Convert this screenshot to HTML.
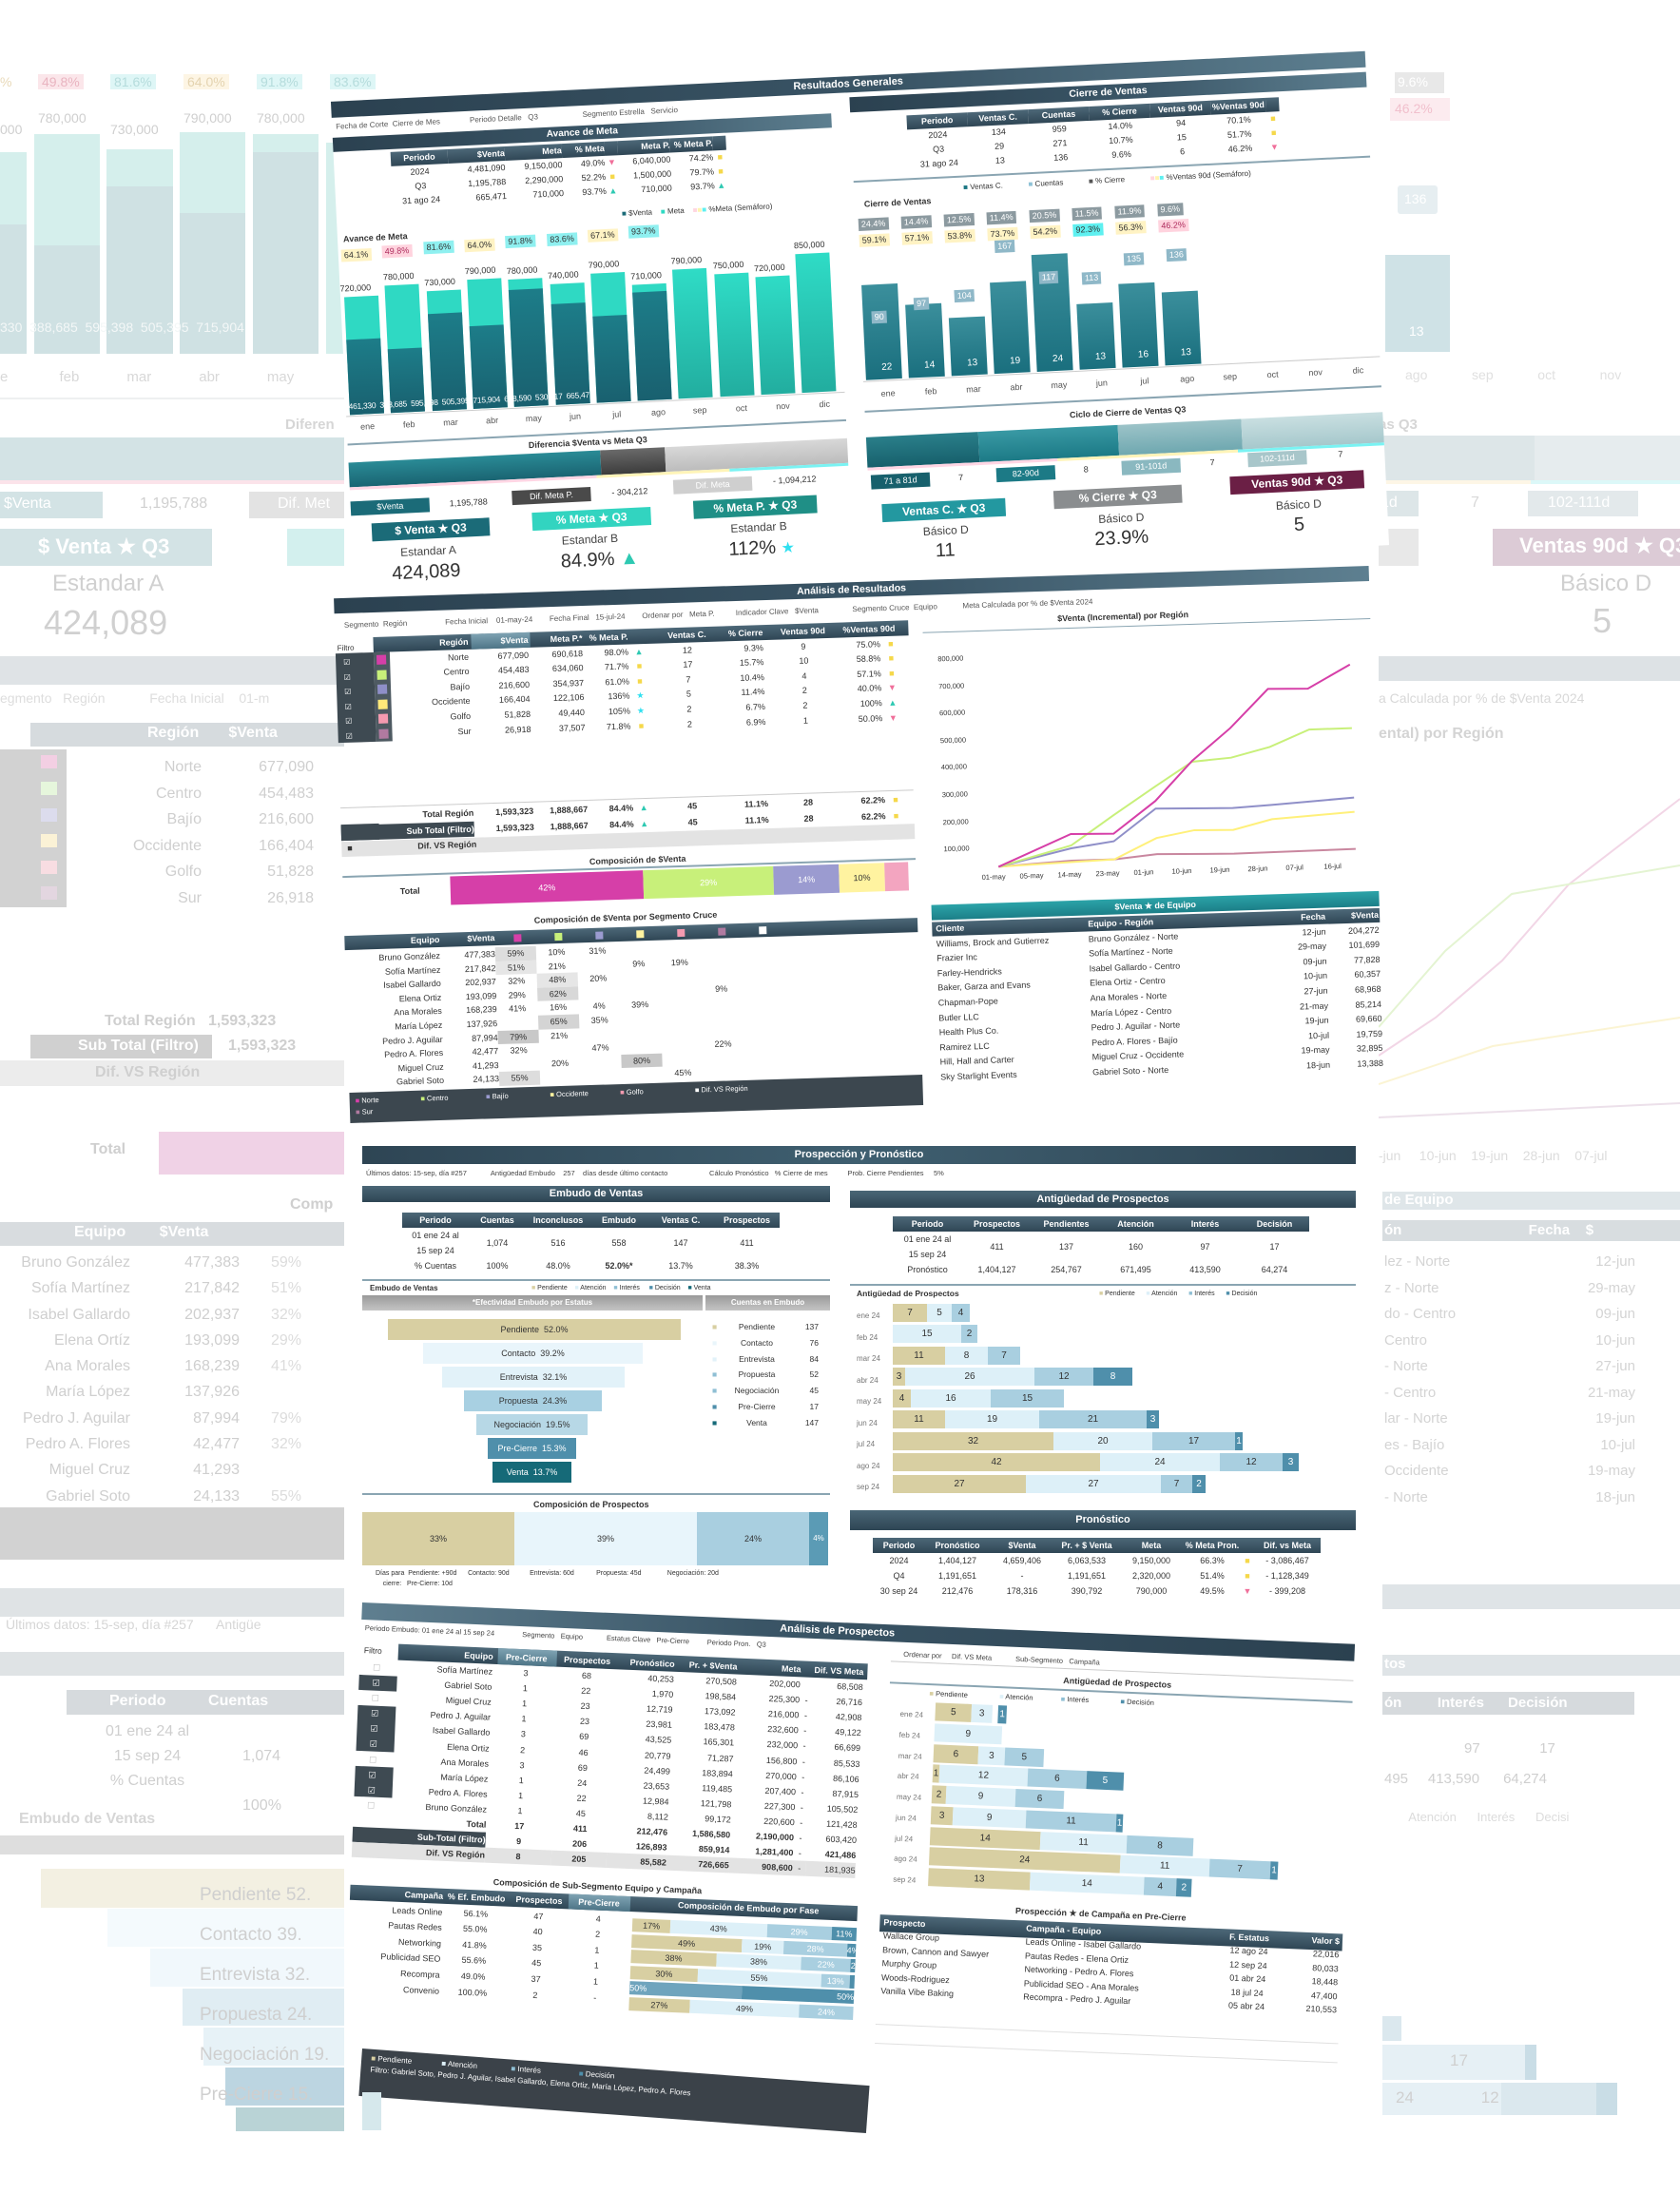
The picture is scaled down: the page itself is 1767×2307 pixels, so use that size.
<!DOCTYPE html>
<html><head><meta charset="utf-8">
<style>
*{box-sizing:border-box}
body{margin:0;width:1767px;height:2307px;overflow:hidden;background:#fff;font-family:"Liberation Sans Narrow","Liberation Sans",sans-serif;color:#333;position:relative}
.a{position:absolute}
.sec{position:absolute}
.hd{position:absolute;height:17px;background:linear-gradient(90deg,#2b4150,#3a5566 55%,#5d7f90);color:#fff;font-weight:bold;font-size:11px;line-height:17px;text-align:center}
.g{position:absolute;display:grid;font-size:9px;line-height:15px;white-space:nowrap}
.g span{text-align:right}
.g.c span{text-align:center}
.th{background:linear-gradient(180deg,#4d6878,#2f4655);color:#fff;font-weight:bold}
.t{position:absolute;font-size:9px;white-space:nowrap}
.b{position:absolute}
.lb{position:absolute;font-size:9px;padding:0 3px;line-height:13px}
.bg{position:absolute;color:#cfcfcf;font-family:"Liberation Sans",sans-serif;white-space:nowrap}
.seg{position:absolute;height:19px;font-size:10px;line-height:19px;text-align:center;color:#333}
.T{background:#d8cfa2}.L{background:#ddf0f8}.M{background:#a9cfe0}.D{background:#4f8fab;color:#fff}
.card{position:absolute;height:19px;color:#fff;font-weight:bold;font-size:12px;line-height:19px;text-align:center}
</style></head><body>

<!-- ============ BACKGROUND LEFT ============ -->
<div class="bg" style="left:0;top:78px;font-size:14px;">
<span class="a" style="left:0;color:#e8d9b8">%</span>
<span class="a" style="left:40px;background:#fbe6ea;color:#e9b4c0;padding:0 4px">49.8%</span>
<span class="a" style="left:116px;background:#def6f6;color:#b5dcdc;padding:0 4px">81.6%</span>
<span class="a" style="left:193px;background:#fdf5e4;color:#e4d3b0;padding:0 4px">64.0%</span>
<span class="a" style="left:270px;background:#def6f6;color:#b5dcdc;padding:0 4px">91.8%</span>
<span class="a" style="left:347px;background:#def6f6;color:#b5dcdc;padding:0 4px">83.6%</span>
</div>
<div class="bg" style="left:0;top:128px;font-size:14px">000</div>
<div class="bg" style="left:40px;top:116px;font-size:14px">780,000</div>
<div class="bg" style="left:116px;top:128px;font-size:14px">730,000</div>
<div class="bg" style="left:193px;top:116px;font-size:14px">790,000</div>
<div class="bg" style="left:270px;top:116px;font-size:14px">780,000</div>
<div class="b" style="left:0;top:160px;width:28px;height:212px;background:#d5efec"><div class="b" style="left:0;bottom:0;width:100%;height:136px;background:#cfe1e3"></div></div>
<div class="b" style="left:36px;top:141px;width:69px;height:231px;background:#d5efec"><div class="b" style="left:0;bottom:0;width:100%;height:114px;background:#cfe1e3"></div></div>
<div class="b" style="left:112px;top:157px;width:70px;height:215px;background:#d5efec"><div class="b" style="left:0;bottom:0;width:100%;height:176px;background:#cfe1e3"></div></div>
<div class="b" style="left:189px;top:139px;width:69px;height:233px;background:#d5efec"><div class="b" style="left:0;bottom:0;width:100%;height:148px;background:#cfe1e3"></div></div>
<div class="b" style="left:266px;top:141px;width:69px;height:231px;background:#d5efec"><div class="b" style="left:0;bottom:0;width:100%;height:212px;background:#cfe1e3"></div></div>
<div class="b" style="left:343px;top:150px;width:20px;height:222px;background:#d5efec"></div>
<div class="bg" style="left:0;top:336px;font-size:14px;color:#f3f7f7">330 &nbsp;388,685 &nbsp;595,398 &nbsp;505,395 &nbsp;715,904</div>
<div class="bg" style="left:0;top:388px;font-size:15px;color:#d8d8d8">e&nbsp;&nbsp;&nbsp;&nbsp;&nbsp;&nbsp;&nbsp;&nbsp;&nbsp;&nbsp;&nbsp;&nbsp;&nbsp;feb&nbsp;&nbsp;&nbsp;&nbsp;&nbsp;&nbsp;&nbsp;&nbsp;&nbsp;&nbsp;&nbsp;&nbsp;mar&nbsp;&nbsp;&nbsp;&nbsp;&nbsp;&nbsp;&nbsp;&nbsp;&nbsp;&nbsp;&nbsp;&nbsp;abr&nbsp;&nbsp;&nbsp;&nbsp;&nbsp;&nbsp;&nbsp;&nbsp;&nbsp;&nbsp;&nbsp;&nbsp;may</div>
<div class="b" style="left:0;top:418px;width:362px;height:2px;background:#eef0f1"></div>
<div class="bg" style="left:300px;top:438px;font-size:15px;font-weight:bold;color:#d6d6d6">Diferen</div>
<div class="b" style="left:0;top:460px;width:362px;height:45px;background:#d3e3e5"></div>
<div class="b" style="left:0;top:505px;width:362px;height:4px;background:#fbe3ea"></div>
<div class="b" style="left:0;top:517px;width:108px;height:28px;background:#d3e3e5"></div>
<div class="bg" style="left:4px;top:521px;font-size:16px;color:#fff">$Venta</div>
<div class="bg" style="left:147px;top:521px;font-size:16px;color:#d0d0d0">1,195,788</div>
<div class="b" style="left:262px;top:517px;width:100px;height:28px;background:#e3e3e3"></div>
<div class="bg" style="left:292px;top:521px;font-size:16px;color:#fff">Dif. Met</div>
<div class="b" style="left:0;top:556px;width:223px;height:39px;background:#d3e3e5"></div>
<div class="bg" style="left:40px;top:562px;font-size:22px;font-weight:bold;color:#fff">$ Venta ★ Q3</div>
<div class="b" style="left:302px;top:556px;width:60px;height:39px;background:#d3f0ee"></div>
<div class="bg" style="left:55px;top:600px;font-size:24px;color:#d0d0d0">Estandar A</div>
<div class="bg" style="left:46px;top:634px;font-size:36px;color:#d0d0d0">424,089</div>
<div class="b" style="left:0;top:690px;width:362px;height:30px;background:#dfe3e6"></div>
<div class="bg" style="left:0;top:726px;font-size:14px;color:#ddd">egmento &nbsp;&nbsp;Región&nbsp;&nbsp;&nbsp;&nbsp;&nbsp;&nbsp;&nbsp;&nbsp;&nbsp;&nbsp;&nbsp;&nbsp;Fecha Inicial&nbsp;&nbsp;&nbsp;&nbsp;01-m</div>
<div class="b" style="left:32px;top:760px;width:330px;height:25px;background:#d6dbde"></div>
<div class="bg" style="left:155px;top:762px;font-size:16px;color:#fff;font-weight:bold">Región&nbsp;&nbsp;&nbsp;&nbsp;&nbsp;&nbsp;&nbsp;$Venta</div>
<div class="b" style="left:0;top:788px;width:70px;height:166px;background:#d2d2d2"></div>
<div class="b" style="left:43px;top:794px;width:17px;height:14px;background:#f3cfe3"></div>
<div class="b" style="left:43px;top:822px;width:17px;height:14px;background:#e6f6dc"></div>
<div class="b" style="left:43px;top:850px;width:17px;height:14px;background:#dcdced"></div>
<div class="b" style="left:43px;top:877px;width:17px;height:14px;background:#fbf2d6"></div>
<div class="b" style="left:43px;top:905px;width:17px;height:14px;background:#f8dde2"></div>
<div class="b" style="left:43px;top:932px;width:17px;height:14px;background:#e3d6e0"></div>
<div class="bg" style="left:120px;top:793px;font-size:16px;line-height:27.5px;text-align:right;width:92px">Norte<br>Centro<br>Bajío<br>Occidente<br>Golfo<br>Sur</div>
<div class="bg" style="left:240px;top:793px;font-size:16px;line-height:27.5px;text-align:right;width:90px">677,090<br>454,483<br>216,600<br>166,404<br>51,828<br>26,918</div>
<div class="bg" style="left:110px;top:1065px;font-size:16px;font-weight:bold">Total Región&nbsp;&nbsp;&nbsp;1,593,323</div>
<div class="b" style="left:32px;top:1088px;width:191px;height:25px;background:#d0d0d0"></div>
<div class="bg" style="left:82px;top:1091px;font-size:16px;font-weight:bold;color:#fff">Sub Total (Filtro)</div>
<div class="bg" style="left:240px;top:1091px;font-size:16px;font-weight:bold">1,593,323</div>
<div class="b" style="left:0;top:1115px;width:362px;height:27px;background:#ececec"></div>
<div class="bg" style="left:100px;top:1119px;font-size:16px;font-weight:bold">Dif. VS Región</div>
<div class="bg" style="left:95px;top:1200px;font-size:16px;font-weight:bold">Total</div>
<div class="b" style="left:167px;top:1190px;width:195px;height:45px;background:#f0d2e6"></div>
<div class="bg" style="left:305px;top:1258px;font-size:16px;font-weight:bold">Comp</div>
<div class="b" style="left:0;top:1285px;width:362px;height:25px;background:#d8dcdf"></div>
<div class="bg" style="left:78px;top:1287px;font-size:16px;color:#fff;font-weight:bold">Equipo&nbsp;&nbsp;&nbsp;&nbsp;&nbsp;&nbsp;&nbsp;&nbsp;$Venta</div>
<div class="bg" style="left:0;top:1314px;font-size:16px;line-height:27.3px;text-align:right;width:137px">Bruno González<br>Sofía Martínez<br>Isabel Gallardo<br>Elena Ortíz<br>Ana Morales<br>María López<br>Pedro J. Aguilar<br>Pedro A. Flores<br>Miguel Cruz<br>Gabriel Soto</div>
<div class="bg" style="left:170px;top:1314px;font-size:16px;line-height:27.3px;text-align:right;width:82px">477,383<br>217,842<br>202,937<br>193,099<br>168,239<br>137,926<br>87,994<br>42,477<br>41,293<br>24,133</div>
<div class="bg" style="left:285px;top:1314px;font-size:16px;line-height:27.3px;color:#dcdcdc">59%<br>51%<br>32%<br>29%<br>41%<br>&nbsp;<br>79%<br>32%<br>&nbsp;<br>55%</div>
<div class="b" style="left:0;top:1585px;width:362px;height:55px;background:#d2d2d2"></div>
<div class="b" style="left:0;top:1670px;width:362px;height:30px;background:#dfe3e5"></div>
<div class="bg" style="left:6px;top:1700px;font-size:14px;color:#d6d6d6">Últimos datos: 15-sep, día #257&nbsp;&nbsp;&nbsp;&nbsp;&nbsp;&nbsp;Antigüe</div>
<div class="b" style="left:0;top:1737px;width:362px;height:25px;background:#dfe3e5"></div>
<div class="b" style="left:70px;top:1777px;width:292px;height:26px;background:#d6dadd"></div>
<div class="bg" style="left:115px;top:1780px;font-size:16px;color:#fff;font-weight:bold">Periodo&nbsp;&nbsp;&nbsp;&nbsp;&nbsp;&nbsp;&nbsp;&nbsp;&nbsp;&nbsp;Cuentas</div>
<div class="bg" style="left:95px;top:1808px;font-size:16px;line-height:26px;text-align:center;width:120px">01 ene 24 al<br>15 sep 24<br>% Cuentas</div>
<div class="bg" style="left:255px;top:1821px;font-size:16px;line-height:52px">1,074<br>100%</div>
<div class="bg" style="left:20px;top:1904px;font-size:16px;font-weight:bold;color:#d6d6d6">Embudo de Ventas</div>
<div class="b" style="left:0;top:1930px;width:362px;height:20px;background:#dedede"></div>
<div class="b" style="left:43px;top:1965px;width:319px;height:41px;background:#f3f0e2"></div>
<div class="b" style="left:113px;top:2007px;width:249px;height:40px;background:#f4fafd"></div>
<div class="b" style="left:158px;top:2049px;width:204px;height:40px;background:#f1f8fc"></div>
<div class="b" style="left:192px;top:2091px;width:170px;height:39px;background:#e0edf3"></div>
<div class="b" style="left:214px;top:2132px;width:148px;height:40px;background:#e7f2f7"></div>
<div class="b" style="left:237px;top:2174px;width:125px;height:40px;background:#bcd5e1"></div>
<div class="b" style="left:248px;top:2216px;width:114px;height:25px;background:#b9d3d6"></div>
<div class="bg" style="left:210px;top:1972px;font-size:19px;line-height:42px;color:#cfcfcf">Pendiente 52.<br>Contacto 39.<br>Entrevista 32.<br>Propuesta 24.<br>Negociación 19.<br>Pre-Cierre 15.</div>

<!-- ============ BACKGROUND RIGHT ============ -->
<div class="b" style="left:1467px;top:76px;width:52px;height:22px;background:#e8e8e8"></div>
<div class="bg" style="left:1470px;top:78px;font-size:14px;color:#fff">9.6%</div>
<div class="b" style="left:1462px;top:103px;width:63px;height:24px;background:#fcebef"></div>
<div class="bg" style="left:1467px;top:106px;font-size:14px;color:#f1c0cd">46.2%</div>
<div class="b" style="left:1470px;top:195px;width:42px;height:30px;background:#e6eef1;border-radius:3px"></div>
<div class="bg" style="left:1477px;top:201px;font-size:14px;color:#fff">136</div>
<div class="b" style="left:1457px;top:268px;width:68px;height:102px;background:#cfe2e6"></div>
<div class="bg" style="left:1482px;top:340px;font-size:14px;color:#fff">13</div>
<div class="bg" style="left:1478px;top:386px;font-size:14px;color:#e0e0e0">ago&nbsp;&nbsp;&nbsp;&nbsp;&nbsp;&nbsp;&nbsp;&nbsp;&nbsp;&nbsp;&nbsp;&nbsp;sep&nbsp;&nbsp;&nbsp;&nbsp;&nbsp;&nbsp;&nbsp;&nbsp;&nbsp;&nbsp;&nbsp;&nbsp;oct&nbsp;&nbsp;&nbsp;&nbsp;&nbsp;&nbsp;&nbsp;&nbsp;&nbsp;&nbsp;&nbsp;&nbsp;nov</div>
<div class="bg" style="left:1450px;top:438px;font-size:15px;font-weight:bold;color:#d6d6d6">as Q3</div>
<div class="b" style="left:1450px;top:458px;width:164px;height:47px;background:#dde6e8"></div>
<div class="b" style="left:1614px;top:458px;width:153px;height:47px;background:#e6ecee"></div>
<div class="b" style="left:1450px;top:505px;width:160px;height:4px;background:#fdf6e6"></div>
<div class="b" style="left:1610px;top:505px;width:157px;height:4px;background:#dcf8f8"></div>
<div class="b" style="left:1450px;top:516px;width:42px;height:27px;background:#dde6e8"></div>
<div class="bg" style="left:1452px;top:520px;font-size:16px;color:#fff">1d</div>
<div class="bg" style="left:1547px;top:520px;font-size:16px;color:#d8d8d8">7</div>
<div class="b" style="left:1607px;top:516px;width:116px;height:27px;background:#e3e9eb"></div>
<div class="bg" style="left:1628px;top:520px;font-size:16px;color:#fff">102-111d</div>
<div class="b" style="left:1450px;top:556px;width:42px;height:39px;background:#e8e8e8"></div>
<div class="b" style="left:1570px;top:556px;width:197px;height:39px;background:#dccbd6"></div>
<div class="bg" style="left:1598px;top:561px;font-size:22px;font-weight:bold;color:#fff">Ventas 90d ★ Q3</div>
<div class="bg" style="left:1641px;top:600px;font-size:24px;color:#d0d0d0">Básico D</div>
<div class="bg" style="left:1675px;top:632px;font-size:36px;color:#d0d0d0">5</div>
<div class="b" style="left:1450px;top:690px;width:317px;height:26px;background:#dde2e5"></div>
<div class="bg" style="left:1450px;top:726px;font-size:14px;color:#d8d8d8">a Calculada por % de $Venta 2024</div>
<div class="bg" style="left:1450px;top:763px;font-size:16px;font-weight:bold;color:#d4d4d4">ental) por Región</div>
<svg class="a" style="left:1450px;top:780px" width="317" height="420"><g fill="none" stroke-width="2">
<polyline points="0,330 60,290 130,230 200,150 317,60" stroke="#f2d6e6"/>
<polyline points="0,300 70,220 140,160 317,130" stroke="#e4f4d2"/>
<polyline points="0,360 120,320 317,290" stroke="#fbf4d3"/>
<polyline points="0,395 317,380" stroke="#ece0ea"/></g></svg>
<div class="bg" style="left:1450px;top:1207px;font-size:14px;color:#dcdcdc">-jun&nbsp;&nbsp;&nbsp;&nbsp;&nbsp;10-jun&nbsp;&nbsp;&nbsp;&nbsp;19-jun&nbsp;&nbsp;&nbsp;&nbsp;28-jun&nbsp;&nbsp;&nbsp;&nbsp;07-jul</div>
<div class="b" style="left:1454px;top:1253px;width:313px;height:19px;background:#dfe6e9"></div>
<div class="bg" style="left:1456px;top:1253px;font-size:15px;font-weight:bold;color:#fff">de Equipo</div>
<div class="b" style="left:1454px;top:1283px;width:313px;height:22px;background:#d8dde0"></div>
<div class="bg" style="left:1456px;top:1285px;font-size:15px;font-weight:bold;color:#fff">ón&nbsp;&nbsp;&nbsp;&nbsp;&nbsp;&nbsp;&nbsp;&nbsp;&nbsp;&nbsp;&nbsp;&nbsp;&nbsp;&nbsp;&nbsp;&nbsp;&nbsp;&nbsp;&nbsp;&nbsp;&nbsp;&nbsp;&nbsp;&nbsp;&nbsp;&nbsp;&nbsp;&nbsp;&nbsp;&nbsp;&nbsp;&nbsp;Fecha&nbsp;&nbsp;&nbsp;&nbsp;$</div>
<div class="bg" style="left:1456px;top:1313px;font-size:15px;line-height:27.5px;color:#d4d4d4">lez - Norte<br>z - Norte<br>do - Centro<br>Centro<br>- Norte<br>- Centro<br>lar - Norte<br>es - Bajío<br>Occidente<br>- Norte</div>
<div class="bg" style="left:1660px;top:1313px;font-size:15px;line-height:27.5px;color:#d4d4d4;text-align:right;width:60px">12-jun<br>29-may<br>09-jun<br>10-jun<br>27-jun<br>21-may<br>19-jun<br>10-jul<br>19-may<br>18-jun</div>
<div class="b" style="left:1454px;top:1666px;width:313px;height:26px;background:#dfe4e7"></div>
<div class="b" style="left:1454px;top:1740px;width:313px;height:22px;background:#dfe4e7"></div>
<div class="bg" style="left:1456px;top:1741px;font-size:15px;font-weight:bold;color:#fff">tos</div>
<div class="b" style="left:1454px;top:1779px;width:265px;height:24px;background:#d6dadd"></div>
<div class="bg" style="left:1456px;top:1782px;font-size:15px;font-weight:bold;color:#fff">ón&nbsp;&nbsp;&nbsp;&nbsp;&nbsp;&nbsp;&nbsp;&nbsp;&nbsp;Interés&nbsp;&nbsp;&nbsp;&nbsp;&nbsp;&nbsp;Decisión</div>
<div class="bg" style="left:1540px;top:1818px;font-size:15px;line-height:42px">97&nbsp;&nbsp;&nbsp;&nbsp;&nbsp;&nbsp;&nbsp;&nbsp;&nbsp;&nbsp;&nbsp;&nbsp;&nbsp;&nbsp;&nbsp;17</div>
<div class="bg" style="left:1456px;top:1862px;font-size:15px">495&nbsp;&nbsp;&nbsp;&nbsp;&nbsp;413,590&nbsp;&nbsp;&nbsp;&nbsp;&nbsp;&nbsp;64,274</div>
<div class="bg" style="left:1456px;top:1903px;font-size:13px;color:#dcdcdc">&nbsp;&nbsp;&nbsp;&nbsp;&nbsp;&nbsp;&nbsp;Atención&nbsp;&nbsp;&nbsp;&nbsp;&nbsp;&nbsp;Interés&nbsp;&nbsp;&nbsp;&nbsp;&nbsp;&nbsp;Decisi</div>
<div class="b" style="left:1454px;top:2120px;width:20px;height:26px;background:#dbe8ee"></div>
<div class="b" style="left:1454px;top:2150px;width:150px;height:37px;background:#e6f0f5"></div>
<div class="b" style="left:1604px;top:2150px;width:12px;height:37px;background:#c9dde6"></div>
<div class="bg" style="left:1525px;top:2157px;font-size:17px">17</div>
<div class="b" style="left:1454px;top:2190px;width:125px;height:34px;background:#e6f0f5"></div>
<div class="b" style="left:1579px;top:2190px;width:100px;height:34px;background:#dbe8ee"></div>
<div class="b" style="left:1679px;top:2190px;width:22px;height:34px;background:#c9dde6"></div>
<div class="bg" style="left:1468px;top:2196px;font-size:17px">24&nbsp;&nbsp;&nbsp;&nbsp;&nbsp;&nbsp;&nbsp;&nbsp;&nbsp;&nbsp;&nbsp;&nbsp;&nbsp;&nbsp;&nbsp;12</div>

<!-- ============ SECTION A ============ -->
<div class="sec" style="left:360px;top:80px;width:1089px;height:520px;transform:rotate(-2.8deg);background:#fff">
<div class="hd" style="left:0;top:0;width:1089px;">Resultados Generales</div>
<div class="t" style="left:4px;top:22px;font-size:8px;color:#555">Fecha de Corte &nbsp;Cierre de Mes &nbsp;&nbsp;&nbsp;&nbsp;&nbsp;&nbsp;&nbsp;&nbsp;&nbsp;&nbsp;&nbsp;&nbsp;&nbsp;Periodo Detalle &nbsp;&nbsp;Q3&nbsp;&nbsp;&nbsp;&nbsp;&nbsp;&nbsp;&nbsp;&nbsp;&nbsp;&nbsp;&nbsp;&nbsp;&nbsp;&nbsp;&nbsp;&nbsp;&nbsp;&nbsp;&nbsp;&nbsp;&nbsp;Segmento Estrella &nbsp;&nbsp;Servicio</div>
<div class="hd" style="left:0;top:38px;width:525px;height:15px;line-height:15px;font-size:10px">Avance de Meta</div>
<div class="g" style="left:60px;top:56px;grid-template-columns:60px 60px 60px 45px 14px 55px 45px 14px">
<span class="th" style="text-align:center">Periodo</span><span class="th">$Venta</span><span class="th">Meta</span><span class="th">% Meta</span><span class="th"></span><span class="th">Meta P.</span><span class="th">% Meta P.</span><span class="th"></span>
<span style="text-align:center">2024</span><span>4,481,090</span><span>9,150,000</span><span>49.0%</span><span style="color:#f06f9a;text-align:center">▼</span><span>6,040,000</span><span>74.2%</span><span style="color:#f5d84a;text-align:center">■</span>
<span style="text-align:center">Q3</span><span>1,195,788</span><span>2,290,000</span><span>52.2%</span><span style="color:#f5d84a;text-align:center">■</span><span>1,500,000</span><span>79.7%</span><span style="color:#f5d84a;text-align:center">■</span>
<span style="text-align:center">31 ago 24</span><span>665,471</span><span>710,000</span><span>93.7%</span><span style="color:#2ec9b2;text-align:center">▲</span><span>710,000</span><span>93.7%</span><span style="color:#2ec9b2;text-align:center">▲</span>
</div>
<div class="t" style="left:300px;top:128px;font-size:8px"><span style="color:#1b6b78">■</span> $Venta &nbsp;&nbsp;&nbsp;<span style="color:#2fd9c3">■</span> Meta &nbsp;&nbsp;&nbsp;<span style="color:#ffd6e0">■</span><span style="color:#fff3b0">■</span><span style="color:#5ef0f0">■</span> %Meta (Semáforo)</div>
<div class="t" style="left:6px;top:140px;font-size:9px;font-weight:bold">Avance de Meta</div>
<!-- percent labels -->
<div class="lb" style="left:3px;top:156px;background:#fff3c4">64.1%</div>
<div class="lb" style="left:46px;top:154px;background:#ffd3de;color:#b03060">49.8%</div>
<div class="lb" style="left:90px;top:152px;background:#8ff0f0">81.6%</div>
<div class="lb" style="left:133px;top:152px;background:#fff3c4">64.0%</div>
<div class="lb" style="left:176px;top:150px;background:#8ff0f0">91.8%</div>
<div class="lb" style="left:220px;top:150px;background:#8ff0f0">83.6%</div>
<div class="lb" style="left:263px;top:148px;background:#fff3c4">67.1%</div>
<div class="lb" style="left:306px;top:146px;background:#8ff0f0">93.7%</div>
<!-- bars -->
<div class="b" style="left:4px;top:206px;width:36px;height:124px;background:#2fd9c3"><div class="b" style="left:0;bottom:0;width:36px;height:79px;background:linear-gradient(#1d7d89,#19606f)"></div></div>
<div class="b" style="left:47px;top:196px;width:36px;height:134px;background:#2fd9c3"><div class="b" style="left:0;bottom:0;width:36px;height:67px;background:linear-gradient(#1d7d89,#19606f)"></div></div>
<div class="b" style="left:91px;top:204px;width:36px;height:126px;background:#2fd9c3"><div class="b" style="left:0;bottom:0;width:36px;height:102px;background:linear-gradient(#1d7d89,#19606f)"></div></div>
<div class="b" style="left:134px;top:194px;width:36px;height:136px;background:#2fd9c3"><div class="b" style="left:0;bottom:0;width:36px;height:87px;background:linear-gradient(#1d7d89,#19606f)"></div></div>
<div class="b" style="left:177px;top:196px;width:36px;height:134px;background:#2fd9c3"><div class="b" style="left:0;bottom:0;width:36px;height:123px;background:linear-gradient(#1d7d89,#19606f)"></div></div>
<div class="b" style="left:221px;top:203px;width:36px;height:127px;background:#2fd9c3"><div class="b" style="left:0;bottom:0;width:36px;height:106px;background:linear-gradient(#1d7d89,#19606f)"></div></div>
<div class="b" style="left:264px;top:194px;width:36px;height:136px;background:#2fd9c3"><div class="b" style="left:0;bottom:0;width:36px;height:91px;background:linear-gradient(#1d7d89,#19606f)"></div></div>
<div class="b" style="left:307px;top:208px;width:36px;height:122px;background:#2fd9c3"><div class="b" style="left:0;bottom:0;width:36px;height:114px;background:linear-gradient(#1d7d89,#19606f)"></div></div>
<div class="b" style="left:350px;top:194px;width:36px;height:136px;background:linear-gradient(#2fdcc6,#22ad9f)"></div>
<div class="b" style="left:394px;top:201px;width:36px;height:129px;background:linear-gradient(#2fdcc6,#22ad9f)"></div>
<div class="b" style="left:437px;top:206px;width:36px;height:124px;background:linear-gradient(#2fdcc6,#22ad9f)"></div>
<div class="b" style="left:480px;top:184px;width:36px;height:146px;background:linear-gradient(#2fdcc6,#22ad9f)"></div>
<div class="t" style="left:0;top:192px;font-size:9px">720,000</div>
<div class="t" style="left:46px;top:182px">780,000</div>
<div class="t" style="left:89px;top:190px">730,000</div>
<div class="t" style="left:132px;top:180px">790,000</div>
<div class="t" style="left:176px;top:182px">780,000</div>
<div class="t" style="left:219px;top:189px">740,000</div>
<div class="t" style="left:262px;top:180px">790,000</div>
<div class="t" style="left:306px;top:194px">710,000</div>
<div class="t" style="left:349px;top:180px">790,000</div>
<div class="t" style="left:393px;top:187px">750,000</div>
<div class="t" style="left:436px;top:192px">720,000</div>
<div class="t" style="left:479px;top:170px">850,000</div>
<div class="t" style="left:3px;top:316px;color:#fff;font-size:8.5px;letter-spacing:-0.3px">461,330 &nbsp;388,685 &nbsp;595,398 &nbsp;505,395 &nbsp;715,904 &nbsp;618,590 &nbsp;530,317 &nbsp;665,471</div>
<div class="b" style="left:0;top:331px;width:525px;height:1px;background:#ccc"></div>
<div class="t" style="left:0;top:338px;width:525px;display:flex;font-size:9px;color:#555"><span style="width:43.75px;text-align:center">ene</span><span style="width:43.75px;text-align:center">feb</span><span style="width:43.75px;text-align:center">mar</span><span style="width:43.75px;text-align:center">abr</span><span style="width:43.75px;text-align:center">may</span><span style="width:43.75px;text-align:center">jun</span><span style="width:43.75px;text-align:center">jul</span><span style="width:43.75px;text-align:center">ago</span><span style="width:43.75px;text-align:center">sep</span><span style="width:43.75px;text-align:center">oct</span><span style="width:43.75px;text-align:center">nov</span><span style="width:43.75px;text-align:center">dic</span></div>
<div class="b" style="left:0;top:360px;width:525px;height:2px;background:#8aa5b2"></div>
<div class="t" style="left:190px;top:366px;font-weight:bold;font-size:9px">Diferencia $Venta vs Meta Q3</div>
<div class="b" style="left:0;top:380px;width:265px;height:26px;background:linear-gradient(#2a8b96,#1a6472)"></div>
<div class="b" style="left:265px;top:380px;width:68px;height:26px;background:linear-gradient(#6a6a6a,#3c3c3c)"></div>
<div class="b" style="left:333px;top:380px;width:192px;height:26px;background:linear-gradient(#d8d8d8,#bcbcbc)"></div>
<div class="b" style="left:0;top:406px;width:260px;height:3px;background:#ffd6e4"></div>
<div class="b" style="left:260px;top:406px;width:140px;height:3px;background:#fff4b8"></div>
<div class="b" style="left:400px;top:406px;width:125px;height:3px;background:#7af3f3"></div>
<div class="b" style="left:0;top:421px;width:83px;height:15px;background:#1b6b78;color:#fff;font-size:9px;text-align:center;line-height:15px">$Venta</div>
<div class="t" style="left:104px;top:423px">1,195,788</div>
<div class="b" style="left:170px;top:418px;width:83px;height:15px;background:#4a4a4a;color:#fff;font-size:9px;text-align:center;line-height:15px">Dif. Meta P.</div>
<div class="t" style="left:275px;top:420px">- 304,212</div>
<div class="b" style="left:340px;top:415px;width:83px;height:15px;background:#cfcfcf;color:#fff;font-size:9px;text-align:center;line-height:15px">Dif. Meta</div>
<div class="t" style="left:445px;top:416px">- 1,094,212</div>
<div class="card" style="left:21px;top:445px;width:124px;background:#1b6b78">$ Venta ★ Q3</div>
<div class="card" style="left:190px;top:442px;width:125px;background:#32d4c0">% Meta ★ Q3</div>
<div class="card" style="left:360px;top:438px;width:130px;background:#1f8f86">% Meta P. ★ Q3</div>
<div class="t" style="left:50px;top:470px;font-size:12px;color:#444">Estandar A</div>
<div class="t" style="left:220px;top:466px;font-size:12px;color:#444">Estandar B</div>
<div class="t" style="left:398px;top:462px;font-size:12px;color:#444">Estandar B</div>
<div class="t" style="left:40px;top:488px;font-size:20px;color:#333">424,089</div>
<div class="t" style="left:218px;top:484px;font-size:20px;color:#333">84.9% <span style="color:#2ec9b2">▲</span></div>
<div class="t" style="left:395px;top:480px;font-size:20px;color:#333">112% <span style="color:#30e0f0;font-size:16px">★</span></div>

<!-- right column -->
<div class="hd" style="left:545px;top:22px;width:544px;height:16px;line-height:16px;font-size:10.5px">Cierre de Ventas</div>
<div class="g c" style="left:604px;top:44px;grid-template-columns:64px 64px 64px 64px 64px 58px 14px">
<span class="th">Periodo</span><span class="th">Ventas C.</span><span class="th">Cuentas</span><span class="th">% Cierre</span><span class="th">Ventas 90d</span><span class="th">%Ventas 90d</span><span class="th"></span>
<span>2024</span><span>134</span><span>959</span><span>14.0%</span><span>94</span><span>70.1%</span><span style="color:#f5d84a">■</span>
<span>Q3</span><span>29</span><span>271</span><span>10.7%</span><span>15</span><span>51.7%</span><span style="color:#f5d84a">■</span>
<span>31 ago 24</span><span>13</span><span>136</span><span>9.6%</span><span>6</span><span>46.2%</span><span style="color:#f06f9a">▼</span>
</div>
<div class="b" style="left:545px;top:110px;width:544px;height:2px;background:#8aa5b2"></div>
<div class="t" style="left:555px;top:130px;font-size:9px;font-weight:bold">Cierre de Ventas</div>
<div class="t" style="left:660px;top:118px;font-size:8px"><span style="color:#1b7683">■</span> Ventas C. &nbsp;&nbsp;&nbsp;&nbsp;&nbsp;&nbsp;&nbsp;&nbsp;&nbsp;&nbsp;&nbsp;<span style="color:#8fc2d6">■</span> Cuentas &nbsp;&nbsp;&nbsp;&nbsp;&nbsp;&nbsp;&nbsp;&nbsp;&nbsp;&nbsp;&nbsp;<span style="color:#555">■</span> % Cierre &nbsp;&nbsp;&nbsp;&nbsp;&nbsp;&nbsp;&nbsp;&nbsp;&nbsp;&nbsp;&nbsp;<span style="color:#ffd6e0">■</span><span style="color:#fff3b0">■</span><span style="color:#5ef0f0">■</span> %Ventas 90d (Semáforo)</div>
<div class="t" style="left:548px;top:150px;font-size:9px;line-height:13px">
<span class="lb" style="position:absolute;left:0;top:0;background:#8c9aa0;color:#fff">24.4%</span><span class="lb" style="position:absolute;left:45px;top:0;background:#8c9aa0;color:#fff">14.4%</span><span class="lb" style="position:absolute;left:90px;top:0;background:#8c9aa0;color:#fff">12.5%</span><span class="lb" style="position:absolute;left:135px;top:0;background:#8c9aa0;color:#fff">11.4%</span><span class="lb" style="position:absolute;left:180px;top:0;background:#8c9aa0;color:#fff">20.5%</span><span class="lb" style="position:absolute;left:225px;top:0;background:#8c9aa0;color:#fff">11.5%</span><span class="lb" style="position:absolute;left:270px;top:0;background:#8c9aa0;color:#fff">11.9%</span><span class="lb" style="position:absolute;left:315px;top:0;background:#8c9aa0;color:#fff">9.6%</span>
<span class="lb" style="position:absolute;left:0;top:17px;background:#fff3c4">59.1%</span><span class="lb" style="position:absolute;left:45px;top:17px;background:#fff3c4">57.1%</span><span class="lb" style="position:absolute;left:90px;top:17px;background:#fff3c4">53.8%</span><span class="lb" style="position:absolute;left:135px;top:17px;background:#fff3c4">73.7%</span><span class="lb" style="position:absolute;left:180px;top:17px;background:#fff3c4">54.2%</span><span class="lb" style="position:absolute;left:225px;top:17px;background:#5ef0f0">92.3%</span><span class="lb" style="position:absolute;left:270px;top:17px;background:#fff3c4">56.3%</span><span class="lb" style="position:absolute;left:315px;top:17px;background:#ffd3de;color:#b03060">46.2%</span>
</div>
<div class="b" style="left:548px;top:220px;width:38px;height:100px;background:linear-gradient(#3b8f9c,#1a6f7e)"></div>
<div class="b" style="left:593px;top:243px;width:38px;height:77px;background:linear-gradient(#3b8f9c,#1a6f7e)"></div>
<div class="b" style="left:638px;top:259px;width:38px;height:61px;background:linear-gradient(#3b8f9c,#1a6f7e)"></div>
<div class="b" style="left:683px;top:224px;width:38px;height:96px;background:linear-gradient(#3b8f9c,#1a6f7e)"></div>
<div class="b" style="left:728px;top:197px;width:38px;height:123px;background:linear-gradient(#3b8f9c,#1a6f7e)"></div>
<div class="b" style="left:773px;top:251px;width:38px;height:69px;background:linear-gradient(#3b8f9c,#1a6f7e)"></div>
<div class="b" style="left:818px;top:232px;width:38px;height:88px;background:linear-gradient(#3b8f9c,#1a6f7e)"></div>
<div class="b" style="left:863px;top:243px;width:38px;height:77px;background:linear-gradient(#3b8f9c,#1a6f7e)"></div>
<div class="lb" style="left:557px;top:248px;background:#8fb8c8;color:#fff">90</div>
<div class="lb" style="left:602px;top:236px;background:#8fb8c8;color:#fff">97</div>
<div class="lb" style="left:645px;top:230px;background:#8fb8c8;color:#fff">104</div>
<div class="lb" style="left:690px;top:180px;background:#8fb8c8;color:#fff">167</div>
<div class="lb" style="left:735px;top:215px;background:#8fb8c8;color:#fff">117</div>
<div class="lb" style="left:780px;top:218px;background:#8fb8c8;color:#fff">113</div>
<div class="lb" style="left:825px;top:200px;background:#8fb8c8;color:#fff">135</div>
<div class="lb" style="left:870px;top:198px;background:#8fb8c8;color:#fff">136</div>
<div class="t" style="left:548px;top:302px;width:360px;display:flex;color:#fff;font-size:10px"><span style="width:45px;text-align:center">22</span><span style="width:45px;text-align:center">14</span><span style="width:45px;text-align:center">13</span><span style="width:45px;text-align:center">19</span><span style="width:45px;text-align:center">24</span><span style="width:45px;text-align:center">13</span><span style="width:45px;text-align:center">16</span><span style="width:45px;text-align:center">13</span></div>
<div class="b" style="left:545px;top:321px;width:544px;height:1px;background:#ccc"></div>
<div class="t" style="left:548px;top:330px;width:540px;display:flex;font-size:9px;color:#555"><span style="width:45px;text-align:center">ene</span><span style="width:45px;text-align:center">feb</span><span style="width:45px;text-align:center">mar</span><span style="width:45px;text-align:center">abr</span><span style="width:45px;text-align:center">may</span><span style="width:45px;text-align:center">jun</span><span style="width:45px;text-align:center">jul</span><span style="width:45px;text-align:center">ago</span><span style="width:45px;text-align:center">sep</span><span style="width:45px;text-align:center">oct</span><span style="width:45px;text-align:center">nov</span><span style="width:45px;text-align:center">dic</span></div>
<div class="b" style="left:545px;top:352px;width:544px;height:2px;background:#8aa5b2"></div>
<div class="t" style="left:760px;top:362px;font-weight:bold;font-size:9px">Ciclo de Cierre de Ventas Q3</div>
<div class="b" style="left:545px;top:380px;width:118px;height:32px;background:linear-gradient(#2a7f8a,#17606c)"></div>
<div class="b" style="left:663px;top:380px;width:147px;height:32px;background:linear-gradient(#3999a4,#1c7a86)"></div>
<div class="b" style="left:810px;top:380px;width:130px;height:32px;background:linear-gradient(#9cc3c8,#6fa8b0)"></div>
<div class="b" style="left:940px;top:380px;width:149px;height:32px;background:linear-gradient(#c9dfe1,#a6c8cc)"></div>
<div class="b" style="left:545px;top:412px;width:200px;height:3px;background:#ffd6e4"></div>
<div class="b" style="left:745px;top:412px;width:190px;height:3px;background:#fff4b8"></div>
<div class="b" style="left:935px;top:412px;width:154px;height:3px;background:#7af3f3"></div>
<div class="b" style="left:548px;top:420px;width:62px;height:15px;background:#17606c;color:#fff;font-size:9px;text-align:center;line-height:15px">71 a 81d</div>
<div class="t" style="left:640px;top:422px">7</div>
<div class="b" style="left:680px;top:419px;width:62px;height:15px;background:#1c7a86;color:#fff;font-size:9px;text-align:center;line-height:15px">82-90d</div>
<div class="t" style="left:772px;top:420px">8</div>
<div class="b" style="left:812px;top:418px;width:62px;height:15px;background:#8ab8c0;color:#fff;font-size:9px;text-align:center;line-height:15px">91-101d</div>
<div class="t" style="left:905px;top:419px">7</div>
<div class="b" style="left:945px;top:416px;width:62px;height:15px;background:#a8c6ca;color:#fff;font-size:9px;text-align:center;line-height:15px">102-111d</div>
<div class="t" style="left:1040px;top:417px">7</div>
<div class="card" style="left:558px;top:451px;width:130px;background:#2398a0">Ventas C. ★ Q3</div>
<div class="card" style="left:739px;top:446px;width:135px;background:#8a8d8f">% Cierre ★ Q3</div>
<div class="card" style="left:925px;top:440px;width:141px;background:#6b1f45">Ventas 90d ★ Q3</div>
<div class="t" style="left:600px;top:475px;font-size:12px;color:#444">Básico D</div>
<div class="t" style="left:785px;top:471px;font-size:12px;color:#444">Básico D</div>
<div class="t" style="left:972px;top:466px;font-size:12px;color:#444">Básico D</div>
<div class="t" style="left:612px;top:492px;font-size:20px">11</div>
<div class="t" style="left:780px;top:488px;font-size:20px">23.9%</div>
<div class="t" style="left:990px;top:483px;font-size:20px">5</div>
</div>

<!-- ============ SECTION B ============ -->
<div class="sec" style="left:360px;top:612px;width:1089px;height:585px;transform:rotate(-1.8deg)">
<div class="hd" style="left:0;top:0;width:1089px;height:16px;line-height:16px;font-size:10.5px">Análisis de Resultados</div>
<div class="t" style="left:10px;top:24px;font-size:8px;color:#555">Segmento &nbsp;Región&nbsp;&nbsp;&nbsp;&nbsp;&nbsp;&nbsp;&nbsp;&nbsp;&nbsp;&nbsp;&nbsp;&nbsp;&nbsp;&nbsp;&nbsp;&nbsp;&nbsp;&nbsp;Fecha Inicial &nbsp;&nbsp;&nbsp;01-may-24&nbsp;&nbsp;&nbsp;&nbsp;&nbsp;&nbsp;&nbsp;&nbsp;Fecha Final &nbsp;&nbsp;15-jul-24&nbsp;&nbsp;&nbsp;&nbsp;&nbsp;&nbsp;&nbsp;&nbsp;Ordenar por &nbsp;&nbsp;Meta P.&nbsp;&nbsp;&nbsp;&nbsp;&nbsp;&nbsp;&nbsp;&nbsp;&nbsp;&nbsp;Indicador Clave &nbsp;&nbsp;$Venta&nbsp;&nbsp;&nbsp;&nbsp;&nbsp;&nbsp;&nbsp;&nbsp;&nbsp;&nbsp;&nbsp;&nbsp;&nbsp;&nbsp;&nbsp;&nbsp;Segmento Cruce &nbsp;Equipo&nbsp;&nbsp;&nbsp;&nbsp;&nbsp;&nbsp;&nbsp;&nbsp;&nbsp;&nbsp;&nbsp;&nbsp;Meta Calculada por % de $Venta 2024</div>
<div class="t" style="left:2px;top:48px;font-size:8px">Filtro</div>
<div class="b" style="left:40px;top:42px;width:563px;height:16px;background:linear-gradient(#4d6878,#2f4655)"></div>
<div class="b" style="left:143px;top:42px;width:62px;height:16px;background:linear-gradient(#7ea2b2,#4e7587)"></div>
<div class="b" style="left:0;top:58px;width:40px;height:94px;background:#3e4a52"></div>
<div class="b" style="left:40px;top:58px;width:17px;height:94px;background:#4e5a62"></div>
<div class="t" style="left:8px;top:60px;color:#fff;font-size:8px;line-height:15.6px">☑<br>☑<br>☑<br>☑<br>☑<br>☑</div>
<div class="b" style="left:43px;top:61px;width:10px;height:10px;background:#d63fa8"></div>
<div class="b" style="left:43px;top:77px;width:10px;height:10px;background:#c8f07a"></div>
<div class="b" style="left:43px;top:92px;width:10px;height:10px;background:#8f8fc8"></div>
<div class="b" style="left:43px;top:108px;width:10px;height:10px;background:#ffe97a"></div>
<div class="b" style="left:43px;top:123px;width:10px;height:10px;background:#f59ab0"></div>
<div class="b" style="left:43px;top:139px;width:10px;height:10px;background:#b07aa0"></div>
<div class="g" style="left:0;top:43px;line-height:15.6px;grid-template-columns:140px 63px 57px 48px 22px 80px 40px 84px 39px 22px">
<span style="color:#fff;font-weight:bold">Región</span><span style="color:#fff;font-weight:bold">$Venta</span><span style="color:#fff;font-weight:bold">Meta P.*</span><span style="color:#fff;font-weight:bold">% Meta P.</span><span></span><span style="color:#fff;font-weight:bold;text-align:center">Ventas C.</span><span style="color:#fff;font-weight:bold">% Cierre</span><span style="color:#fff;font-weight:bold;text-align:center">Ventas 90d</span><span style="color:#fff;font-weight:bold">%Ventas 90d</span><span></span>
<span>Norte</span><span>677,090</span><span>690,618</span><span>98.0%</span><span style="text-align:center;color:#2ec9b2">▲</span><span style="text-align:center">12</span><span>9.3%</span><span style="text-align:center">9</span><span>75.0%</span><span style="text-align:center;color:#f5d84a">■</span>
<span>Centro</span><span>454,483</span><span>634,060</span><span>71.7%</span><span style="text-align:center;color:#f5d84a">■</span><span style="text-align:center">17</span><span>15.7%</span><span style="text-align:center">10</span><span>58.8%</span><span style="text-align:center;color:#f5d84a">■</span>
<span>Bajío</span><span>216,600</span><span>354,937</span><span>61.0%</span><span style="text-align:center;color:#f5d84a">■</span><span style="text-align:center">7</span><span>10.4%</span><span style="text-align:center">4</span><span>57.1%</span><span style="text-align:center;color:#f5d84a">■</span>
<span>Occidente</span><span>166,404</span><span>122,106</span><span>136%</span><span style="text-align:center;color:#30e0f0">★</span><span style="text-align:center">5</span><span>11.4%</span><span style="text-align:center">2</span><span>40.0%</span><span style="text-align:center;color:#f06f9a">▼</span>
<span>Golfo</span><span>51,828</span><span>49,440</span><span>105%</span><span style="text-align:center;color:#30e0f0">★</span><span style="text-align:center">2</span><span>6.7%</span><span style="text-align:center">2</span><span>100%</span><span style="text-align:center;color:#2ec9b2">▲</span>
<span>Sur</span><span>26,918</span><span>37,507</span><span>71.8%</span><span style="text-align:center;color:#f5d84a">■</span><span style="text-align:center">2</span><span>6.9%</span><span style="text-align:center">1</span><span>50.0%</span><span style="text-align:center;color:#f06f9a">▼</span>
</div>
<div class="b" style="left:0;top:220px;width:603px;height:1px;background:#ccc"></div>
<div class="g" style="left:0;top:222px;line-height:16.5px;font-weight:bold;grid-template-columns:140px 63px 57px 48px 22px 80px 40px 84px 39px 22px">
<span>Total Región</span><span>1,593,323</span><span>1,888,667</span><span>84.4%</span><span style="text-align:center;color:#2ec9b2">▲</span><span style="text-align:center">45</span><span>11.1%</span><span style="text-align:center">28</span><span>62.2%</span><span style="text-align:center;color:#f5d84a">■</span>
<span style="background:#3e4a52;color:#fff">Sub Total (Filtro)</span><span>1,593,323</span><span>1,888,667</span><span>84.4%</span><span style="text-align:center;color:#2ec9b2">▲</span><span style="text-align:center">45</span><span>11.1%</span><span style="text-align:center">28</span><span>62.2%</span><span style="text-align:center;color:#f5d84a">■</span>
</div>
<div class="b" style="left:0;top:238px;width:40px;height:17px;background:#3e4a52"></div>
<div class="b" style="left:0;top:256px;width:603px;height:16px;background:#e3e3e3"></div>
<div class="t" style="left:6px;top:258px;font-size:9px">■</div>
<div class="t" style="left:80px;top:258px;font-size:9px;font-weight:bold">Dif. VS Región</div>
<div class="t" style="left:260px;top:280px;font-size:9px;font-weight:bold">Composición de $Venta</div>
<div class="b" style="left:0;top:292px;width:603px;height:2px;background:#8aa5b2"></div>
<div class="t" style="left:60px;top:305px;font-size:9px;font-weight:bold">Total</div>
<div class="b" style="left:113px;top:296px;width:203px;height:30px;background:#d63fa8;color:#fff;font-size:9px;text-align:center;line-height:30px">42%</div>
<div class="b" style="left:316px;top:296px;width:137px;height:30px;background:#c8f07a;color:#fff;font-size:9px;text-align:center;line-height:30px">29%</div>
<div class="b" style="left:453px;top:296px;width:69px;height:30px;background:#9b9bd0;color:#fff;font-size:9px;text-align:center;line-height:30px">14%</div>
<div class="b" style="left:522px;top:296px;width:48px;height:30px;background:#fff3a0;font-size:9px;text-align:center;line-height:30px">10%</div>
<div class="b" style="left:570px;top:296px;width:25px;height:30px;background:#f3a5c0"></div>
<div class="t" style="left:200px;top:340px;font-size:9px;font-weight:bold">Composición de $Venta por Segmento Cruce</div>
<div class="b" style="left:0;top:355px;width:603px;height:15px;background:linear-gradient(#4d6878,#2f4655)"></div>
<div class="g" style="left:0;top:355px;line-height:15px;grid-template-columns:100px 58px">
<span style="color:#fff;font-weight:bold">Equipo</span><span style="color:#fff;font-weight:bold">$Venta</span></div>
<div class="b" style="left:178px;top:359px;width:8px;height:8px;background:#d63fa8"></div>
<div class="b" style="left:221px;top:359px;width:8px;height:8px;background:#c8f07a"></div>
<div class="b" style="left:264px;top:359px;width:8px;height:8px;background:#9b9bd0"></div>
<div class="b" style="left:307px;top:359px;width:8px;height:8px;background:#fff3a0"></div>
<div class="b" style="left:350px;top:359px;width:8px;height:8px;background:#f59ab0"></div>
<div class="b" style="left:393px;top:359px;width:8px;height:8px;background:#b07aa0"></div>
<div class="b" style="left:436px;top:359px;width:8px;height:8px;background:#fff"></div>
<div class="g c" style="left:0;top:372px;line-height:14.6px;grid-template-columns:100px 58px 43px 43px 43px 43px 43px 43px">
<span style="text-align:right">Bruno González</span><span style="text-align:right">477,383</span><span style="background:#ddd">59%</span><span>10%</span><span>31%</span><span></span><span></span><span></span>
<span style="text-align:right">Sofía Martínez</span><span style="text-align:right">217,842</span><span style="background:#e6e6e6">51%</span><span>21%</span><span></span><span>9%</span><span>19%</span><span></span>
<span style="text-align:right">Isabel Gallardo</span><span style="text-align:right">202,937</span><span>32%</span><span style="background:#e6e6e6">48%</span><span>20%</span><span></span><span></span><span></span>
<span style="text-align:right">Elena Ortiz</span><span style="text-align:right">193,099</span><span>29%</span><span style="background:#d8d8d8">62%</span><span></span><span></span><span></span><span>9%</span>
<span style="text-align:right">Ana Morales</span><span style="text-align:right">168,239</span><span>41%</span><span>16%</span><span>4%</span><span>39%</span><span></span><span></span>
<span style="text-align:right">María López</span><span style="text-align:right">137,926</span><span></span><span style="background:#d4d4d4">65%</span><span>35%</span><span></span><span></span><span></span>
<span style="text-align:right">Pedro J. Aguilar</span><span style="text-align:right">87,994</span><span style="background:#c8c8c8">79%</span><span>21%</span><span></span><span></span><span></span><span></span>
<span style="text-align:right">Pedro A. Flores</span><span style="text-align:right">42,477</span><span>32%</span><span></span><span>47%</span><span></span><span></span><span>22%</span>
<span style="text-align:right">Miguel Cruz</span><span style="text-align:right">41,293</span><span></span><span>20%</span><span></span><span style="background:#c8c8c8">80%</span><span></span><span></span>
<span style="text-align:right">Gabriel Soto</span><span style="text-align:right">24,133</span><span style="background:#ddd">55%</span><span></span><span></span><span></span><span>45%</span><span></span>
</div>
<div class="b" style="left:0;top:520px;width:603px;height:32px;background:#3c474f;color:#fff;font-size:7.5px;padding:3px 6px;line-height:12px">
<span style="color:#d63fa8">■</span> Norte&nbsp;&nbsp;&nbsp;&nbsp;&nbsp;&nbsp;&nbsp;&nbsp;&nbsp;&nbsp;&nbsp;&nbsp;&nbsp;&nbsp;&nbsp;&nbsp;&nbsp;&nbsp;&nbsp;&nbsp;&nbsp;<span style="color:#c8f07a">■</span> Centro&nbsp;&nbsp;&nbsp;&nbsp;&nbsp;&nbsp;&nbsp;&nbsp;&nbsp;&nbsp;&nbsp;&nbsp;&nbsp;&nbsp;&nbsp;&nbsp;&nbsp;&nbsp;&nbsp;<span style="color:#9b9bd0">■</span> Bajío&nbsp;&nbsp;&nbsp;&nbsp;&nbsp;&nbsp;&nbsp;&nbsp;&nbsp;&nbsp;&nbsp;&nbsp;&nbsp;&nbsp;&nbsp;&nbsp;&nbsp;&nbsp;&nbsp;&nbsp;&nbsp;<span style="color:#fff3a0">■</span> Occidente&nbsp;&nbsp;&nbsp;&nbsp;&nbsp;&nbsp;&nbsp;&nbsp;&nbsp;&nbsp;&nbsp;&nbsp;&nbsp;&nbsp;&nbsp;&nbsp;<span style="color:#f59ab0">■</span> Golfo&nbsp;&nbsp;&nbsp;&nbsp;&nbsp;&nbsp;&nbsp;&nbsp;&nbsp;&nbsp;&nbsp;&nbsp;&nbsp;&nbsp;&nbsp;&nbsp;&nbsp;&nbsp;&nbsp;&nbsp;&nbsp;&nbsp;&nbsp;&nbsp;&nbsp;&nbsp;■ Dif. VS Región<br><span style="color:#b07aa0">■</span> Sur</div>

<!-- right chart -->
<div class="t" style="left:760px;top:40px;font-size:9px;font-weight:bold">$Venta (Incremental) por Región</div>
<div class="b" style="left:618px;top:55px;width:471px;height:1px;background:#8aa5b2"></div>
<div class="t" style="left:620px;top:70px;font-size:7.5px;line-height:28.6px;text-align:right;width:40px">800,000<br>700,000<br>600,000<br>500,000<br>400,000<br>300,000<br>200,000<br>100,000</div>
<svg class="a" style="left:0;top:0" width="1089" height="340"><g fill="none" stroke-width="2">
<polyline points="690,304 767,300 812,300 857,296 938,298 1066,297" stroke="#c9879f"/>
<polyline points="690,304 812,300 857,279 897,272 938,273 979,263 1066,258" stroke="#fff07a"/>
<polyline points="690,304 767,287 812,281 857,248 938,250 979,248 1066,243" stroke="#8f8fc8"/>
<polyline points="690,304 767,284 812,254 857,225 897,200 938,197 979,187 1021,170 1066,170" stroke="#c8f07a"/>
<polyline points="690,304 767,272 812,273 857,240 897,199 938,166 979,126 1021,127 1066,103" stroke="#d63fa8"/>
</g></svg>
<div class="t" style="left:672px;top:310px;font-size:7.5px;word-spacing:2px;width:400px;display:flex"><span style="width:41px">01-may</span><span style="width:41px">05-may</span><span style="width:41px">14-may</span><span style="width:41px">23-may</span><span style="width:41px">01-jun</span><span style="width:41px">10-jun</span><span style="width:41px">19-jun</span><span style="width:41px">28-jun</span><span style="width:41px">07-jul</span><span style="width:41px">16-jul</span></div>
<div class="b" style="left:618px;top:342px;width:471px;height:16px;background:linear-gradient(#2ba3a8,#1c7f88);color:#fff;font-weight:bold;font-size:9px;text-align:center;line-height:16px">$Venta ★ de Equipo</div>
<div class="b" style="left:618px;top:360px;width:471px;height:15px;background:linear-gradient(#4d6878,#2f4655)"></div>
<div class="g" style="left:622px;top:360px;line-height:15.6px;grid-template-columns:160px 180px 70px 56px">
<span style="text-align:left;color:#fff;font-weight:bold">Cliente</span><span style="text-align:left;color:#fff;font-weight:bold">Equipo - Región</span><span style="color:#fff;font-weight:bold">Fecha</span><span style="color:#fff;font-weight:bold">$Venta</span>
<span style="text-align:left">Williams, Brock and Gutierrez</span><span style="text-align:left">Bruno González - Norte</span><span>12-jun</span><span>204,272</span>
<span style="text-align:left">Frazier Inc</span><span style="text-align:left">Sofía Martínez - Norte</span><span>29-may</span><span>101,699</span>
<span style="text-align:left">Farley-Hendricks</span><span style="text-align:left">Isabel Gallardo - Centro</span><span>09-jun</span><span>77,828</span>
<span style="text-align:left">Baker, Garza and Evans</span><span style="text-align:left">Elena Ortiz - Centro</span><span>10-jun</span><span>60,357</span>
<span style="text-align:left">Chapman-Pope</span><span style="text-align:left">Ana Morales - Norte</span><span>27-jun</span><span>68,968</span>
<span style="text-align:left">Butler LLC</span><span style="text-align:left">María López - Centro</span><span>21-may</span><span>85,214</span>
<span style="text-align:left">Health Plus Co.</span><span style="text-align:left">Pedro J. Aguilar - Norte</span><span>19-jun</span><span>69,660</span>
<span style="text-align:left">Ramirez LLC</span><span style="text-align:left">Pedro A. Flores - Bajío</span><span>10-jul</span><span>19,759</span>
<span style="text-align:left">Hill, Hall and Carter</span><span style="text-align:left">Miguel Cruz - Occidente</span><span>19-may</span><span>32,895</span>
<span style="text-align:left">Sky Starlight Events</span><span style="text-align:left">Gabriel Soto - Norte</span><span>18-jun</span><span>13,388</span>
</div>
</div>

<!-- ============ SECTION C ============ -->
<div class="sec" style="left:381px;top:1205px;width:1045px;height:480px">
<div class="hd" style="left:0;top:0;width:1045px;height:19px;line-height:19px;background:linear-gradient(90deg,#2e4554,#3f5f70 50%,#2e4554)">Prospección y Pronóstico</div>
<div class="t" style="left:4px;top:24px;font-size:7.5px;color:#444">Últimos datos: 15-sep, día #257&nbsp;&nbsp;&nbsp;&nbsp;&nbsp;&nbsp;&nbsp;&nbsp;&nbsp;&nbsp;&nbsp;&nbsp;Antigüedad Embudo &nbsp;&nbsp;&nbsp;257 &nbsp;&nbsp;&nbsp;días desde último contacto&nbsp;&nbsp;&nbsp;&nbsp;&nbsp;&nbsp;&nbsp;&nbsp;&nbsp;&nbsp;&nbsp;&nbsp;&nbsp;&nbsp;&nbsp;&nbsp;&nbsp;&nbsp;&nbsp;&nbsp;&nbsp;Cálculo Pronóstico &nbsp;&nbsp;% Cierre de mes&nbsp;&nbsp;&nbsp;&nbsp;&nbsp;&nbsp;&nbsp;&nbsp;&nbsp;&nbsp;Prob. Cierre Pendientes &nbsp;&nbsp;&nbsp;&nbsp;5%</div>
<div class="hd" style="left:0;top:42px;width:492px;height:17px;line-height:17px;background:linear-gradient(#4a6676,#2e4554)">Embudo de Ventas</div>
<div class="g c" style="left:42px;top:70px;line-height:16px;grid-template-columns:70px 60px 68px 60px 70px 69px">
<span class="th">Periodo</span><span class="th">Cuentas</span><span class="th">Inconclusos</span><span class="th">Embudo</span><span class="th">Ventas C.</span><span class="th">Prospectos</span>
<span>01 ene 24 al</span><span></span><span></span><span></span><span></span><span></span>
<span>15 sep 24</span><span></span><span></span><span></span><span></span><span></span>
<span>% Cuentas</span><span>100%</span><span>48.0%</span><span style="font-weight:bold">52.0%*</span><span>13.7%</span><span>38.3%</span>
</div>
<div class="g c" style="left:42px;top:94px;line-height:16px;grid-template-columns:70px 60px 68px 60px 70px 69px"><span></span><span>1,074</span><span>516</span><span>558</span><span>147</span><span>411</span></div>
<div class="b" style="left:0;top:140px;width:492px;height:2px;background:#8aa5b2"></div>
<div class="t" style="left:8px;top:145px;font-size:8px;font-weight:bold">Embudo de Ventas</div>
<div class="t" style="left:178px;top:146px;font-size:7px"><span style="color:#d8cfa2">■</span> Pendiente&nbsp;&nbsp;&nbsp;&nbsp;<span style="color:#ddf0f8">■</span> Atención&nbsp;&nbsp;&nbsp;&nbsp;<span style="color:#8fbfd4">■</span> Interés&nbsp;&nbsp;&nbsp;&nbsp;&nbsp;<span style="color:#4f8fab">■</span> Decisión&nbsp;&nbsp;&nbsp;&nbsp;<span style="color:#166a78">■</span> Venta</div>
<div class="b" style="left:0;top:157px;width:358px;height:16px;background:linear-gradient(#9a9a9a,#c4c4c4);color:#fff;font-size:8px;text-align:center;line-height:16px;font-weight:bold">*Efectividad Embudo por Estatus</div>
<div class="b" style="left:361px;top:157px;width:131px;height:16px;background:linear-gradient(#9a9a9a,#c4c4c4);color:#fff;font-size:8px;text-align:center;line-height:16px;font-weight:bold">Cuentas en Embudo</div>
<div class="b" style="left:27px;top:182px;width:308px;height:22px;background:#d8cfa2;font-size:9px;text-align:center;line-height:22px">Pendiente &nbsp;52.0%</div>
<div class="b" style="left:64px;top:207px;width:231px;height:22px;background:#e9f5fb;font-size:9px;text-align:center;line-height:22px">Contacto &nbsp;39.2%</div>
<div class="b" style="left:84px;top:232px;width:192px;height:22px;background:#e2f2f9;font-size:9px;text-align:center;line-height:22px">Entrevista &nbsp;32.1%</div>
<div class="b" style="left:107px;top:257px;width:145px;height:22px;background:#a8d0e2;font-size:9px;text-align:center;line-height:22px">Propuesta &nbsp;24.3%</div>
<div class="b" style="left:120px;top:282px;width:117px;height:22px;background:#b7d8e6;font-size:9px;text-align:center;line-height:22px">Negociación &nbsp;19.5%</div>
<div class="b" style="left:132px;top:307px;width:93px;height:22px;background:#4f8fab;color:#fff;font-size:9px;text-align:center;line-height:22px">Pre-Cierre &nbsp;15.3%</div>
<div class="b" style="left:137px;top:332px;width:83px;height:22px;background:#166a78;color:#fff;font-size:9px;text-align:center;line-height:22px">Venta &nbsp;13.7%</div>
<div class="t" style="left:368px;top:182px;font-size:8.5px;line-height:16.8px"><span style="color:#d8cfa2">■</span><br><span style="color:#e9f5fb">■</span><br><span style="color:#e2f2f9">■</span><br><span style="color:#8fbfd4">■</span><br><span style="color:#8fbfd4">■</span><br><span style="color:#4f8fab">■</span><br><span style="color:#166a78">■</span></div>
<div class="t" style="left:385px;top:182px;font-size:8.5px;line-height:16.8px;text-align:center;width:60px">Pendiente<br>Contacto<br>Entrevista<br>Propuesta<br>Negociación<br>Pre-Cierre<br>Venta</div>
<div class="t" style="left:455px;top:182px;font-size:8.5px;line-height:16.8px;text-align:right;width:25px">137<br>76<br>84<br>52<br>45<br>17<br>147</div>
<div class="b" style="left:0;top:365px;width:492px;height:2px;background:#8aa5b2"></div>
<div class="t" style="left:180px;top:372px;font-size:9px;font-weight:bold">Composición de Prospectos</div>
<div class="b" style="left:0;top:385px;width:160px;height:56px;background:#d8cfa2;font-size:9px;text-align:center;line-height:56px">33%</div>
<div class="b" style="left:160px;top:385px;width:192px;height:56px;background:#e8f5fb;font-size:9px;text-align:center;line-height:56px">39%</div>
<div class="b" style="left:352px;top:385px;width:118px;height:56px;background:#a9cfe0;font-size:9px;text-align:center;line-height:56px">24%</div>
<div class="b" style="left:470px;top:385px;width:20px;height:56px;background:#5b9bb5;color:#fff;font-size:8px;text-align:center;line-height:56px">4%</div>
<div class="t" style="left:14px;top:444px;font-size:7px;line-height:11px">Días para&nbsp;&nbsp;Pendiente: +90d&nbsp;&nbsp;&nbsp;&nbsp;&nbsp;&nbsp;Contacto: 90d&nbsp;&nbsp;&nbsp;&nbsp;&nbsp;&nbsp;&nbsp;&nbsp;&nbsp;&nbsp;&nbsp;Entrevista: 60d&nbsp;&nbsp;&nbsp;&nbsp;&nbsp;&nbsp;&nbsp;&nbsp;&nbsp;&nbsp;&nbsp;&nbsp;Propuesta: 45d&nbsp;&nbsp;&nbsp;&nbsp;&nbsp;&nbsp;&nbsp;&nbsp;&nbsp;&nbsp;&nbsp;&nbsp;&nbsp;&nbsp;Negociación: 20d<br>&nbsp;&nbsp;&nbsp;&nbsp;cierre:&nbsp;&nbsp;&nbsp;Pre-Cierre: 10d</div>

<div class="hd" style="left:513px;top:47px;width:532px;height:18px;line-height:18px;background:linear-gradient(#4a6676,#2e4554)">Antigüedad de Prospectos</div>
<div class="g c" style="left:558px;top:74px;line-height:16px;grid-template-columns:73px 73px 73px 73px 73px 73px">
<span class="th">Periodo</span><span class="th">Prospectos</span><span class="th">Pendientes</span><span class="th">Atención</span><span class="th">Interés</span><span class="th">Decisión</span>
<span>01 ene 24 al</span><span></span><span></span><span></span><span></span><span></span>
<span>15 sep 24</span><span></span><span></span><span></span><span></span><span></span>
<span>Pronóstico</span><span>1,404,127</span><span>254,767</span><span>671,495</span><span>413,590</span><span>64,274</span>
</div>
<div class="g c" style="left:558px;top:98px;line-height:16px;grid-template-columns:73px 73px 73px 73px 73px 73px"><span></span><span>411</span><span>137</span><span>160</span><span>97</span><span>17</span></div>
<div class="b" style="left:513px;top:145px;width:532px;height:2px;background:#8aa5b2"></div>
<div class="t" style="left:520px;top:150px;font-size:8.5px;font-weight:bold">Antigüedad de Prospectos</div>
<div class="t" style="left:775px;top:152px;font-size:7px"><span style="color:#d8cfa2">■</span> Pendiente&nbsp;&nbsp;&nbsp;&nbsp;&nbsp;&nbsp;<span style="color:#ddf0f8">■</span> Atención&nbsp;&nbsp;&nbsp;&nbsp;&nbsp;&nbsp;<span style="color:#8fbfd4">■</span> Interés&nbsp;&nbsp;&nbsp;&nbsp;&nbsp;&nbsp;<span style="color:#4f8fab">■</span> Decisión</div>
<div class="t" style="left:520px;top:168px;font-size:8px;line-height:22.5px;color:#777">ene 24<br>feb 24<br>mar 24<br>abr 24<br>may 24<br>jun 24<br>jul 24<br>ago 24<br>sep 24</div>
<!-- rows -->
<div class="seg T" style="left:558px;top:166px;width:36px">7</div><div class="seg L" style="left:594px;top:166px;width:26px">5</div><div class="seg M" style="left:620px;top:166px;width:19px">4</div>
<div class="seg L" style="left:558px;top:188px;width:72px">15</div><div class="seg M" style="left:630px;top:188px;width:17px">2</div>
<div class="seg T" style="left:558px;top:211px;width:55px">11</div><div class="seg L" style="left:613px;top:211px;width:45px">8</div><div class="seg M" style="left:658px;top:211px;width:34px">7</div>
<div class="seg T" style="left:558px;top:233px;width:13px">3</div><div class="seg L" style="left:571px;top:233px;width:136px">26</div><div class="seg M" style="left:707px;top:233px;width:62px">12</div><div class="seg D" style="left:769px;top:233px;width:41px">8</div>
<div class="seg T" style="left:558px;top:256px;width:19px">4</div><div class="seg L" style="left:577px;top:256px;width:84px">16</div><div class="seg M" style="left:661px;top:256px;width:77px">15</div>
<div class="seg T" style="left:558px;top:278px;width:55px">11</div><div class="seg L" style="left:613px;top:278px;width:99px">19</div><div class="seg M" style="left:712px;top:278px;width:113px">21</div><div class="seg D" style="left:825px;top:278px;width:13px">3</div>
<div class="seg T" style="left:558px;top:301px;width:169px">32</div><div class="seg L" style="left:727px;top:301px;width:104px">20</div><div class="seg M" style="left:831px;top:301px;width:87px">17</div><div class="seg D" style="left:918px;top:301px;width:8px">1</div>
<div class="seg T" style="left:558px;top:323px;width:218px">42</div><div class="seg L" style="left:776px;top:323px;width:126px">24</div><div class="seg M" style="left:902px;top:323px;width:66px">12</div><div class="seg D" style="left:968px;top:323px;width:17px">3</div>
<div class="seg T" style="left:558px;top:346px;width:140px">27</div><div class="seg L" style="left:698px;top:346px;width:142px">27</div><div class="seg M" style="left:840px;top:346px;width:33px">7</div><div class="seg D" style="left:873px;top:346px;width:14px">2</div>
<div class="hd" style="left:513px;top:383px;width:532px;height:21px;line-height:21px;background:linear-gradient(#4a6676,#2e4554)">Pronóstico</div>
<div class="g c" style="left:537px;top:412px;line-height:16px;grid-template-columns:55px 68px 68px 68px 68px 60px 14px 70px">
<span class="th">Periodo</span><span class="th">Pronóstico</span><span class="th">$Venta</span><span class="th">Pr. + $ Venta</span><span class="th">Meta</span><span class="th">% Meta Pron.</span><span class="th"></span><span class="th">Dif. vs Meta</span>
<span>2024</span><span>1,404,127</span><span>4,659,406</span><span>6,063,533</span><span>9,150,000</span><span>66.3%</span><span style="color:#f5d84a">■</span><span>- 3,086,467</span>
<span>Q4</span><span>1,191,651</span><span>-</span><span>1,191,651</span><span>2,320,000</span><span>51.4%</span><span style="color:#f5d84a">■</span><span>- 1,128,349</span>
<span>30 sep 24</span><span>212,476</span><span>178,316</span><span>390,792</span><span>790,000</span><span>49.5%</span><span style="color:#f06f9a">▼</span><span>- 399,208</span>
</div>
</div>

<!-- ============ SECTION D ============ -->
<div class="sec" style="left:381px;top:1685px;width:1045px;height:470px;transform:rotate(2.4deg);transform-origin:0 0">
<div class="hd" style="left:0;top:0;width:1045px;height:18px;line-height:18px;text-align:left;padding-left:440px;background:linear-gradient(90deg,#5f7f90,#3a5566 40%,#2b4150)">Análisis de Prospectos</div>
<div class="t" style="left:4px;top:22px;font-size:7.5px;color:#444">Periodo Embudo: 01 ene 24 al 15 sep 24&nbsp;&nbsp;&nbsp;&nbsp;&nbsp;&nbsp;&nbsp;&nbsp;&nbsp;&nbsp;&nbsp;&nbsp;&nbsp;&nbsp;Segmento &nbsp;&nbsp;Equipo&nbsp;&nbsp;&nbsp;&nbsp;&nbsp;&nbsp;&nbsp;&nbsp;&nbsp;&nbsp;&nbsp;&nbsp;Estatus Clave &nbsp;&nbsp;Pre-Cierre&nbsp;&nbsp;&nbsp;&nbsp;&nbsp;&nbsp;&nbsp;&nbsp;&nbsp;Periodo Pron. &nbsp;&nbsp;Q3</div>
<div class="t" style="left:571px;top:26px;font-size:7.5px;color:#444">Ordenar por &nbsp;&nbsp;&nbsp;&nbsp;Dif. VS Meta&nbsp;&nbsp;&nbsp;&nbsp;&nbsp;&nbsp;&nbsp;&nbsp;&nbsp;&nbsp;&nbsp;&nbsp;Sub-Segmento &nbsp;&nbsp;Campaña</div>
<div class="t" style="left:4px;top:45px;font-size:8.5px">Filtro</div>
<div class="b" style="left:40px;top:42px;width:494px;height:17px;background:linear-gradient(#4d6878,#2f4655)"></div>
<div class="b" style="left:145px;top:42px;width:62px;height:17px;background:linear-gradient(#7ea2b2,#4e7587)"></div>
<div class="g" style="left:0;top:43px;line-height:16.1px;grid-template-columns:140px 70px 58px 63px 66px 67px 14px 52px">
<span style="color:#fff;font-weight:bold">Equipo</span><span style="color:#fff;font-weight:bold;text-align:center">Pre-Cierre</span><span style="color:#fff;font-weight:bold;text-align:center">Prospectos</span><span style="color:#fff;font-weight:bold">Pronóstico</span><span style="color:#fff;font-weight:bold">Pr. + $Venta</span><span style="color:#fff;font-weight:bold">Meta</span><span></span><span style="color:#fff;font-weight:bold">Dif. VS Meta</span>
<span>Sofía Martínez</span><span style="text-align:center">3</span><span style="text-align:center">68</span><span>40,253</span><span>270,508</span><span>202,000</span><span></span><span>68,508</span>
<span>Gabriel Soto</span><span style="text-align:center">1</span><span style="text-align:center">22</span><span>1,970</span><span>198,584</span><span>225,300</span><span style="text-align:center">-</span><span>26,716</span>
<span>Miguel Cruz</span><span style="text-align:center">1</span><span style="text-align:center">23</span><span>12,719</span><span>173,092</span><span>216,000</span><span style="text-align:center">-</span><span>42,908</span>
<span>Pedro J. Aguilar</span><span style="text-align:center">1</span><span style="text-align:center">23</span><span>23,981</span><span>183,478</span><span>232,600</span><span style="text-align:center">-</span><span>49,122</span>
<span>Isabel Gallardo</span><span style="text-align:center">3</span><span style="text-align:center">69</span><span>43,525</span><span>165,301</span><span>232,000</span><span style="text-align:center">-</span><span>66,699</span>
<span>Elena Ortiz</span><span style="text-align:center">2</span><span style="text-align:center">46</span><span>20,779</span><span>71,287</span><span>156,800</span><span style="text-align:center">-</span><span>85,533</span>
<span>Ana Morales</span><span style="text-align:center">3</span><span style="text-align:center">69</span><span>24,499</span><span>183,894</span><span>270,000</span><span style="text-align:center">-</span><span>86,106</span>
<span>María López</span><span style="text-align:center">1</span><span style="text-align:center">24</span><span>23,653</span><span>119,485</span><span>207,400</span><span style="text-align:center">-</span><span>87,915</span>
<span>Pedro A. Flores</span><span style="text-align:center">1</span><span style="text-align:center">22</span><span>12,984</span><span>121,798</span><span>227,300</span><span style="text-align:center">-</span><span>105,502</span>
<span>Bruno González</span><span style="text-align:center">1</span><span style="text-align:center">45</span><span>8,112</span><span>99,172</span><span>220,600</span><span style="text-align:center">-</span><span>121,428</span>
<span style="font-weight:bold">Total</span><span style="text-align:center;font-weight:bold">17</span><span style="text-align:center;font-weight:bold">411</span><span style="font-weight:bold">212,476</span><span style="font-weight:bold">1,586,580</span><span style="font-weight:bold">2,190,000</span><span style="text-align:center">-</span><span>603,420</span>
<span style="font-weight:bold;color:#fff;background:#3e4a52">Sub-Total (Filtro)</span><span style="text-align:center;font-weight:bold">9</span><span style="text-align:center;font-weight:bold">206</span><span style="font-weight:bold">126,893</span><span style="font-weight:bold">859,914</span><span style="font-weight:bold">1,281,400</span><span style="text-align:center">-</span><span style="font-weight:bold">421,486</span>
<span style="font-weight:bold;background:#e3e3e3">Dif. VS Región</span><span style="text-align:center;font-weight:bold;background:#e3e3e3">8</span><span style="text-align:center;font-weight:bold;background:#e3e3e3">205</span><span style="font-weight:bold;background:#e3e3e3">85,582</span><span style="font-weight:bold;background:#e3e3e3">726,665</span><span style="font-weight:bold;background:#e3e3e3">908,600</span><span style="text-align:center;background:#e3e3e3">-</span><span style="background:#e3e3e3">181,935</span>
</div>
<div class="b" style="left:0;top:76px;width:40px;height:16px;background:#3e4a52"></div>
<div class="b" style="left:0;top:108px;width:40px;height:48px;background:#3e4a52"></div>
<div class="b" style="left:0;top:172px;width:40px;height:32px;background:#3e4a52"></div>
<div class="t" style="left:14px;top:60px;font-size:9px;line-height:16.1px;color:#bbb">☐<br><span style="color:#fff">☑</span><br>☐<br><span style="color:#fff">☑</span><br><span style="color:#fff">☑</span><br><span style="color:#fff">☑</span><br>☐<br><span style="color:#fff">☑</span><br><span style="color:#fff">☑</span><br>☐</div>
<div class="t" style="left:150px;top:283px;font-size:9px;font-weight:bold">Composición de Sub-Segmento Equipo y Campaña</div>
<div class="b" style="left:0;top:297px;width:534px;height:16px;background:linear-gradient(#4d6878,#2f4655)"></div>
<div class="b" style="left:230px;top:297px;width:65px;height:16px;background:linear-gradient(#7ea2b2,#4e7587)"></div>
<div class="g c" style="left:0;top:297px;line-height:16.6px;grid-template-columns:98px 70px 62px 64px">
<span style="color:#fff;font-weight:bold;text-align:right">Campaña</span><span style="color:#fff;font-weight:bold">% Ef. Embudo</span><span style="color:#fff;font-weight:bold">Prospectos</span><span style="color:#fff;font-weight:bold">Pre-Cierre</span>
<span style="text-align:right">Leads Online</span><span>56.1%</span><span>47</span><span>4</span>
<span style="text-align:right">Pautas Redes</span><span>55.0%</span><span>40</span><span>2</span>
<span style="text-align:right">Networking</span><span>41.8%</span><span>35</span><span>1</span>
<span style="text-align:right">Publicidad SEO</span><span>55.6%</span><span>45</span><span>1</span>
<span style="text-align:right">Recompra</span><span>49.0%</span><span>37</span><span>1</span>
<span style="text-align:right">Convenio</span><span>100.0%</span><span>2</span><span>-</span>
</div>
<div class="t" style="left:345px;top:299px;color:#fff;font-weight:bold;font-size:9px">Composición de Embudo por Fase</div>
<div class="b" style="left:298px;top:320px;width:236px;height:98px;font-size:9px;line-height:14px;text-align:center">
<div style="display:flex;height:14px;margin-bottom:2.6px"><div class="T" style="width:17%">17%</div><div class="L" style="width:43%">43%</div><div class="M" style="width:29%;color:#fff">29%</div><div class="D" style="width:11%">11%</div></div>
<div style="display:flex;height:14px;margin-bottom:2.6px"><div class="T" style="width:49%">49%</div><div class="L" style="width:19%">19%</div><div class="M" style="width:28%;color:#fff">28%</div><div class="D" style="width:4%">4%</div></div>
<div style="display:flex;height:14px;margin-bottom:2.6px"><div class="T" style="width:38%">38%</div><div class="L" style="width:38%">38%</div><div class="M" style="width:22%;color:#fff">22%</div><div class="D" style="width:2%">2%</div></div>
<div style="display:flex;height:14px;margin-bottom:2.6px"><div class="T" style="width:30%">30%</div><div class="L" style="width:55%">55%</div><div class="M" style="width:13%;color:#fff">13%</div><div class="D" style="width:2%"></div></div>
<div style="display:flex;height:14px;margin-bottom:2.6px"><div style="width:50%;background:#6fa4bd;color:#fff;text-align:left">50%</div><div style="width:50%;background:#4f8fab;color:#fff;text-align:right">50%</div></div>
<div style="display:flex;height:14px"><div class="T" style="width:27%">27%</div><div class="L" style="width:49%">49%</div><div class="M" style="width:24%;color:#fff">24%</div></div>
</div>

<div class="b" style="left:558px;top:38px;width:487px;height:1px;background:#ccc"></div>
<div class="t" style="left:740px;top:46px;font-size:9px;font-weight:bold">Antigüedad de Prospectos</div>
<div class="b" style="left:558px;top:60px;width:487px;height:2px;background:#8aa5b2"></div>
<div class="t" style="left:600px;top:66px;font-size:7.5px"><span style="color:#d8cfa2">■</span> Pendiente&nbsp;&nbsp;&nbsp;&nbsp;&nbsp;&nbsp;&nbsp;&nbsp;&nbsp;&nbsp;&nbsp;&nbsp;&nbsp;&nbsp;&nbsp;&nbsp;<span style="color:#ddf0f8">■</span> Atención&nbsp;&nbsp;&nbsp;&nbsp;&nbsp;&nbsp;&nbsp;&nbsp;&nbsp;&nbsp;&nbsp;&nbsp;&nbsp;&nbsp;<span style="color:#8fbfd4">■</span> Interés&nbsp;&nbsp;&nbsp;&nbsp;&nbsp;&nbsp;&nbsp;&nbsp;&nbsp;&nbsp;&nbsp;&nbsp;&nbsp;&nbsp;&nbsp;&nbsp;<span style="color:#4f8fab">■</span> Decisión</div>
<div class="t" style="left:570px;top:83px;font-size:8px;line-height:21.75px;color:#777">ene 24<br>feb 24<br>mar 24<br>abr 24<br>may 24<br>jun 24<br>jul 24<br>ago 24<br>sep 24</div>
<div class="seg T" style="left:607px;top:80px;width:38px">5</div><div class="seg L" style="left:645px;top:80px;width:22px">3</div><div class="seg D" style="left:673px;top:80px;width:9px">1</div>
<div class="seg L" style="left:607px;top:102px;width:71px">9</div>
<div class="seg T" style="left:607px;top:124px;width:47px">6</div><div class="seg L" style="left:654px;top:124px;width:28px">3</div><div class="seg M" style="left:682px;top:124px;width:41px">5</div>
<div class="seg T" style="left:607px;top:145px;width:7px">1</div><div class="seg L" style="left:614px;top:145px;width:93px">12</div><div class="seg M" style="left:707px;top:145px;width:62px">6</div><div class="seg D" style="left:769px;top:145px;width:39px">5</div>
<div class="seg T" style="left:607px;top:167px;width:15px">2</div><div class="seg L" style="left:622px;top:167px;width:73px">9</div><div class="seg M" style="left:695px;top:167px;width:51px">6</div>
<div class="seg T" style="left:607px;top:189px;width:23px">3</div><div class="seg L" style="left:630px;top:189px;width:77px">9</div><div class="seg M" style="left:707px;top:189px;width:95px">11</div><div class="seg D" style="left:802px;top:189px;width:7px">1</div>
<div class="seg T" style="left:607px;top:211px;width:116px">14</div><div class="seg L" style="left:723px;top:211px;width:91px">11</div><div class="seg M" style="left:814px;top:211px;width:70px">8</div>
<div class="seg T" style="left:607px;top:232px;width:201px">24</div><div class="seg L" style="left:808px;top:232px;width:94px">11</div><div class="seg M" style="left:902px;top:232px;width:64px">7</div><div class="seg D" style="left:966px;top:232px;width:8px">1</div>
<div class="seg T" style="left:607px;top:254px;width:107px">13</div><div class="seg L" style="left:714px;top:254px;width:120px">14</div><div class="seg M" style="left:834px;top:254px;width:34px">4</div><div class="seg D" style="left:868px;top:254px;width:16px">2</div>
<div class="t" style="left:700px;top:290px;font-size:9px;font-weight:bold">Prospección ★ de Campaña en Pre-Cierre</div>
<div class="b" style="left:558px;top:305px;width:487px;height:18px;background:linear-gradient(#4d6878,#2f4655)"></div>
<div class="g" style="left:562px;top:306px;line-height:14.4px;grid-template-columns:150px 200px 70px 60px">
<span style="text-align:left;color:#fff;font-weight:bold">Prospecto</span><span style="text-align:left;color:#fff;font-weight:bold">Campaña - Equipo</span><span style="color:#fff;font-weight:bold;text-align:center">F. Estatus</span><span style="color:#fff;font-weight:bold">Valor $</span>
<span style="text-align:left">Wallace Group</span><span style="text-align:left">Leads Online - Isabel Gallardo</span><span style="text-align:center">12 ago 24</span><span>22,016</span>
<span style="text-align:left">Brown, Cannon and Sawyer</span><span style="text-align:left">Pautas Redes - Elena Ortiz</span><span style="text-align:center">12 sep 24</span><span>80,033</span>
<span style="text-align:left">Murphy Group</span><span style="text-align:left">Networking - Pedro A. Flores</span><span style="text-align:center">01 abr 24</span><span>18,448</span>
<span style="text-align:left">Woods-Rodriguez</span><span style="text-align:left">Publicidad SEO - Ana Morales</span><span style="text-align:center">18 jul 24</span><span>47,400</span>
<span style="text-align:left">Vanilla Vibe Baking</span><span style="text-align:left">Recompra - Pedro J. Aguilar</span><span style="text-align:center">05 abr 24</span><span>210,553</span>
</div>
<div class="b" style="left:558px;top:420px;width:487px;height:1px;background:#e0e0e0"></div>
<div class="b" style="left:558px;top:440px;width:487px;height:1px;background:#e0e0e0"></div>
</div>
<!-- bottom legend box -->
<div class="b" style="left:381px;top:2154px;width:535px;height:50px;background:#3b4249;transform:rotate(4.2deg);transform-origin:0 0;color:#fff;font-size:8px;padding:4px 10px;line-height:12px">
<span style="color:#d8cfa2">■</span> Pendiente&nbsp;&nbsp;&nbsp;&nbsp;&nbsp;&nbsp;&nbsp;&nbsp;&nbsp;&nbsp;&nbsp;&nbsp;&nbsp;&nbsp;<span style="color:#ddf0f8">■</span> Atención&nbsp;&nbsp;&nbsp;&nbsp;&nbsp;&nbsp;&nbsp;&nbsp;&nbsp;&nbsp;&nbsp;&nbsp;&nbsp;&nbsp;&nbsp;&nbsp;<span style="color:#8fbfd4">■</span> Interés&nbsp;&nbsp;&nbsp;&nbsp;&nbsp;&nbsp;&nbsp;&nbsp;&nbsp;&nbsp;&nbsp;&nbsp;&nbsp;&nbsp;&nbsp;&nbsp;&nbsp;&nbsp;<span style="color:#4f8fab">■</span> Decisión<br>Filtro: Gabriel Soto, Pedro J. Aguilar, Isabel Gallardo, Elena Ortiz, María López, Pedro A. Flores</div>
<div class="b" style="left:381px;top:2200px;width:20px;height:40px;background:#d6e8ec"></div>
</body></html>
